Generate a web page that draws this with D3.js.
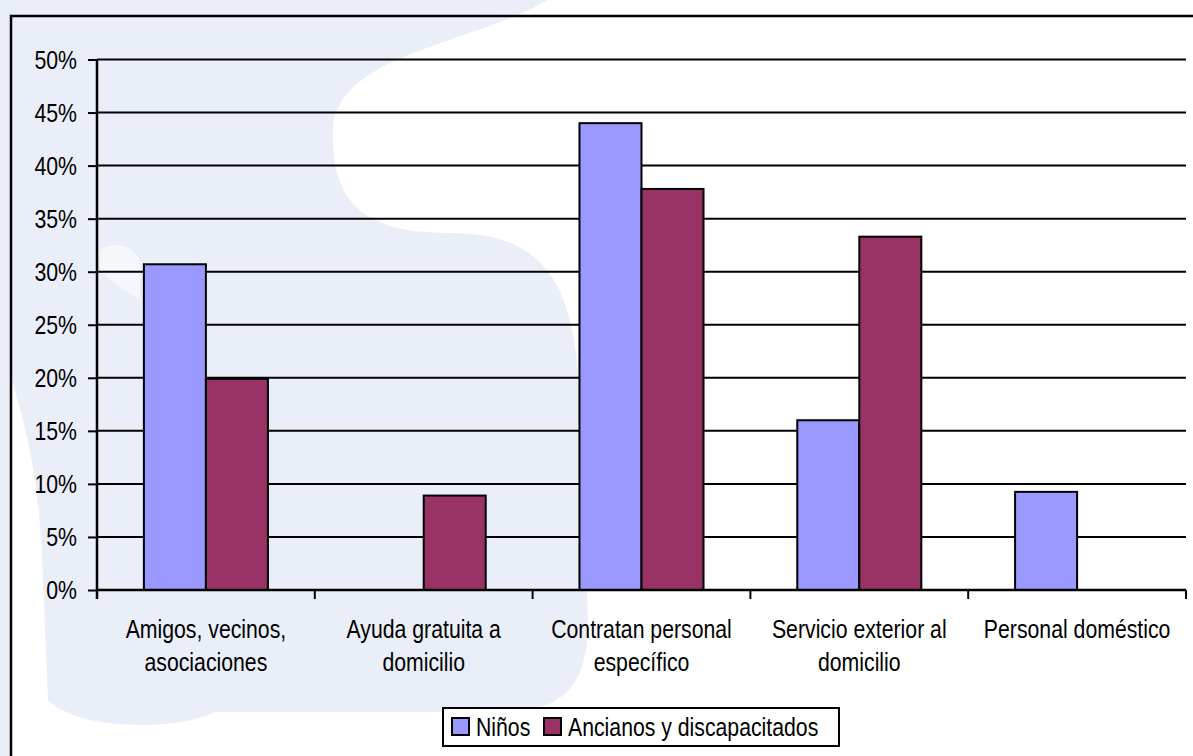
<!DOCTYPE html>
<html>
<head>
<meta charset="utf-8">
<script src="https://cdn.jsdelivr.net/npm/d3@7/dist/d3.min.js"></script>
<style>
  html, body { margin: 0; padding: 0; background: #ffffff; }
  svg { display: block; }
  text { font-family: "Liberation Sans", Arial, sans-serif; fill: #000; }
</style>
</head>
<body>
<svg id="chart" width="1193" height="756"></svg>
<script>
// ---- data ----
const categories = [
  ["Amigos, vecinos,", "asociaciones"],
  ["Ayuda gratuita a", "domicilio"],
  ["Contratan personal", "específico"],
  ["Servicio exterior al", "domicilio"],
  ["Personal doméstico"]
];
const seriesNames = ["Niños", "Ancianos y discapacitados"];
const ninos = [30.7, 0, 44.0, 16.0, 9.25];
const ancianos = [19.9, 8.9, 37.8, 33.3, 0];
const yTicks = [0, 5, 10, 15, 20, 25, 30, 35, 40, 45, 50];
const seriesColors = ["#9999ff", "#993366"];

(function () {
// ---- layout ----
const svg = d3.select("#chart");
const W = 1193, H = 756;
const pLeft = 97, pRight = 1186, pTop = 59.5, pBottom = 590;
const FS = 25, SX = 0.85;

// watermark background
const tint = "#eaeef8";
svg.append("rect").attr("x", 0).attr("y", 0).attr("width", W).attr("height", H).attr("fill", "#fff");
svg.append("path").attr("fill", tint)
  .attr("d", "M0,0 L548,0 C470,45 335,55 333,130 C331,205 365,233 450,233 C550,233 575,290 580,400 L588,620 C588,690 560,712 500,712 L215,712 C180,730 80,732 48,700 L42,560 C38,460 20,410 12,380 L0,380 Z");
svg.append("rect").attr("x", 0).attr("y", 0).attr("width", 11).attr("height", H).attr("fill", tint);
svg.append("path").attr("fill", "#f5f7fc").attr("opacity", 0.9)
  .attr("d", "M100,250 C115,240 135,245 140,262 L140,300 C125,290 108,280 100,270 Z");

// outer border
svg.append("rect").attr("x", 11).attr("y", 16).attr("width", W + 20).attr("height", H + 20)
  .attr("fill", "none").attr("stroke", "#000").attr("stroke-width", 2.5);

// scales
const x = d3.scaleBand().domain(d3.range(categories.length)).range([pLeft, pRight]).paddingInner(0).paddingOuter(0);
const xs = d3.scaleBand().domain([0, 1]).range([0, x.bandwidth()]).paddingInner(0).paddingOuter(0.756);
const y = d3.scaleLinear().domain([0, 50]).range([pBottom, pTop]);

// gridlines
svg.append("g").selectAll("line").data(yTicks.filter(d => d > 0)).join("line")
  .attr("x1", pLeft).attr("x2", pRight)
  .attr("y1", d => y(d)).attr("y2", d => y(d))
  .attr("stroke", "#000").attr("stroke-width", 2);

// y axis
const yAxis = svg.append("g").attr("transform", `translate(${pLeft},0)`)
  .call(d3.axisLeft(y).tickValues(yTicks).tickSize(9).tickPadding(11).tickFormat(d => d + "%"));
yAxis.select(".domain").remove();
yAxis.selectAll(".tick line").attr("stroke", "#000").attr("stroke-width", 2);
yAxis.selectAll(".tick text").remove();
yAxis.selectAll(".tick").append("g").attr("transform", `translate(-20,0) scale(${SX},1)`)
  .append("text").attr("text-anchor", "end").attr("dy", "0.35em").attr("font-size", FS)
  .text(d => d + "%");
svg.append("line").attr("x1", pLeft).attr("x2", pLeft).attr("y1", pTop).attr("y2", pBottom + 9)
  .attr("stroke", "#000").attr("stroke-width", 2.5);

// bars
const rows = categories.map((c, i) => [ninos[i], ancianos[i]]);
const groups = svg.append("g").selectAll("g").data(rows).join("g")
  .attr("transform", (d, i) => `translate(${x(i)},0)`);
groups.selectAll("rect").data(d => d.map((v, s) => ({v, s})).filter(e => e.v > 0)).join("rect")
  .attr("x", e => xs(e.s)).attr("width", xs.bandwidth())
  .attr("y", e => y(e.v)).attr("height", e => y(0) - y(e.v))
  .attr("fill", e => seriesColors[e.s]).attr("stroke", "#000").attr("stroke-width", 2);

// x axis
svg.append("line").attr("x1", pLeft).attr("x2", pRight).attr("y1", pBottom).attr("y2", pBottom)
  .attr("stroke", "#000").attr("stroke-width", 2.5);
const bounds = d3.range(categories.length + 1).map(i => i < categories.length ? x(i) : pRight);
svg.append("g").selectAll("line").data(bounds).join("line")
  .attr("x1", d => d).attr("x2", d => d).attr("y1", pBottom).attr("y2", pBottom + 9)
  .attr("stroke", "#000").attr("stroke-width", 2);

// category labels
const labs = svg.append("g").selectAll("g").data(categories).join("g")
  .attr("transform", (d, i) => `translate(${x(i) + x.bandwidth() / 2},638) scale(${SX},1)`);
labs.each(function(lines) {
  d3.select(this).selectAll("text").data(lines).join("text")
    .attr("x", 0).attr("y", (d, j) => j * 33.5)
    .attr("text-anchor", "middle").attr("font-size", FS).text(d => d);
});

// legend
const lg = svg.append("g");
lg.append("rect").attr("x", 443).attr("y", 708).attr("width", 396).attr("height", 38)
  .attr("fill", "#fff").attr("stroke", "#000").attr("stroke-width", 2);
const legendX = [452, 544];
seriesNames.forEach((n, s) => {
  lg.append("rect").attr("x", legendX[s]).attr("y", 718).attr("width", 17).attr("height", 17)
    .attr("fill", seriesColors[s]).attr("stroke", "#000").attr("stroke-width", 2);
  lg.append("g").attr("transform", `translate(${legendX[s] + 24},736) scale(${SX},1)`)
    .append("text").attr("font-size", FS).text(n);
});
})();
</script>
</body>
</html>
